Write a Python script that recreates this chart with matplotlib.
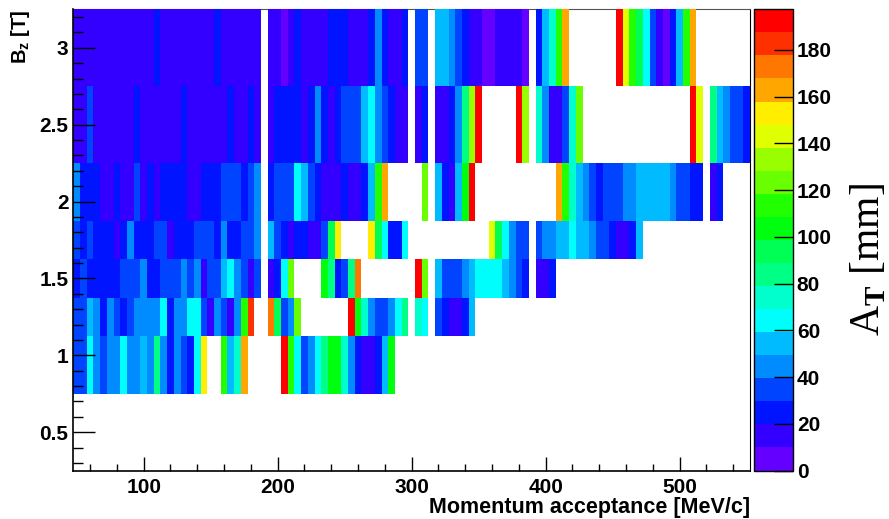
import colorsys
import numpy as np
import matplotlib
matplotlib.use("Agg")
import matplotlib.pyplot as plt
from matplotlib.colors import ListedColormap, BoundaryNorm
from matplotlib.ticker import MultipleLocator, FixedLocator

nan = np.nan

# bin centres (MeV/c) and field values (T)
momentum = np.arange(50, 555, 5)
bz_values = [1.0, 1.25, 1.5, 1.75, 2.0, 2.5, 3.0]
bz_edges = [0.75, 1.125, 1.375, 1.625, 1.875, 2.25, 2.75, 3.25]

# A_T [mm] per momentum bin, one list per field value (empty bins = nan)
at_b100 = [
    35, 35, 65, 45, 35, 45, 45, 65, 45, 45,
    55, 45, 85, 45, 25, 45, 35, 25, 65, 155,
    nan, nan, 115, 55, 75, 165, nan, nan, nan, nan,
    nan, 195, 115, 65, 35, 45, 65, 85, 105, 105,
    75, 45, 25, 15, 15, 25, 55, 105]
at_b125 = [
    35, 35, 55, 45, 25, 45, 35, 25, 35, 45,
    45, 45, 45, 65, 25, 45, 45, 65, 65, 35,
    15, 45, 35, 15, 45, 115, 185, nan, nan, 175,
    95, 35, 45, 125, nan, nan, nan, nan, nan, nan,
    nan, 195, 105, 75, 45, 35, 35, 45, 65, 85,
    nan, 75, 65, nan, 35, 25, 15, 15, 25, 55]
at_b150 = [
    25, 35, 25, 25, 25, 25, 25, 35, 35, 35,
    45, 25, 25, 35, 35, 35, 45, 35, 45, 15,
    35, 35, 55, 65, 45, 35, 15, 35, nan, 15,
    25, 65, 125, nan, nan, nan, nan, 105, 85, 25,
    35, 85, 175, nan, nan, nan, nan, nan, nan, nan,
    nan, 195, 125, nan, 55, 35, 35, 35, 45, 55,
    65, 65, 65, 65, 55, 45, 35, 25, nan, 15,
    15, 25]
at_b175 = [
    35, 25, 35, 25, 25, 25, 15, 25, 45, 25,
    25, 25, 35, 35, 15, 25, 25, 25, 35, 35,
    35, 25, 45, 25, 25, 35, 35, 45, nan, 55,
    35, 25, 15, 25, 25, 15, 15, 35, 95, 155,
    nan, nan, nan, nan, 155, 95, 65, 25, 25, 65,
    nan, nan, nan, nan, nan, nan, nan, nan, nan, nan,
    nan, nan, 145, 95, 65, 45, 35, 35, nan, 35,
    45, 45, 55, 55, 65, 55, 55, 45, 35, 35,
    25, 15, 15, 25, 55]
at_b200 = [
    45, 25, 25, 25, 15, 15, 25, 15, 15, 35,
    15, 25, 15, 25, 25, 25, 25, 15, 15, 25,
    25, 25, 35, 35, 35, 25, 35, 45, nan, 25,
    35, 35, 35, 65, 55, 35, 25, 15, 15, 15,
    25, 15, 15, 25, 55, 115, 165, nan, nan, nan,
    nan, nan, 125, nan, 55, 25, 15, 55, 105, 195,
    nan, nan, nan, nan, nan, nan, nan, nan, nan, nan,
    nan, nan, 165, 115, 75, 55, 45, 35, 25, 35,
    35, 35, 45, 45, 55, 55, 55, 55, 55, 45,
    35, 35, 25, 25, nan, 15, 25]
at_b250 = [
    15, 15, 35, 15, 15, 15, 15, 15, 15, 25,
    15, 15, 15, 15, 15, 15, 25, 15, 15, 15,
    15, 15, 15, 25, 15, 15, 25, 15, nan, 15,
    25, 25, 25, 25, 15, 25, 45, 25, 15, 25,
    35, 35, 35, 55, 65, 45, 35, 25, 15, 15,
    nan, 15, 25, nan, 15, 15, 25, 45, 85, 135,
    195, nan, nan, nan, nan, nan, 195, 135, nan, 75,
    45, 15, 15, 35, 75, 125, nan, nan, nan, nan,
    nan, nan, nan, nan, nan, nan, nan, nan, nan, nan,
    nan, nan, 195, 145, nan, 85, 55, 45, 35, 35,
    25]
at_b300 = [
    15, 15, 15, 15, 15, 15, 15, 15, 15, 15,
    15, 15, 25, 15, 15, 15, 15, 15, 15, 15,
    15, 25, 15, 15, 15, 15, 15, 15, nan, 15,
    15, 5, 15, 25, 15, 15, 15, 15, 25, 25,
    25, 15, 15, 15, 25, 45, 25, 15, 15, 25,
    nan, 35, 35, nan, 55, 55, 45, 35, 25, 15,
    15, 5, 5, 15, 15, 15, 15, 5, nan, 25,
    55, 75, 115, 165, nan, nan, nan, nan, nan, nan,
    nan, 195, 145, 115, 95, 65, 35, 15, 5, 25,
    55, 115, 165]

z_max = 197.4
n_contours = 20


def pad(row):
    # bins past the last listed one are empty
    return row + [nan] * (len(momentum) - len(row))


def root_palette(ncont):
    # ROOT "pretty palette" (violet -> red), picked per contour like COLZ does
    cols = []
    for k in range(ncont):
        idx = int((k + 0.99) * 50 / ncont)
        if idx >= 49:
            cols.append((1.0, 0.0, 0.0))
        else:
            hue = 280 - (idx + 1) * 5.6
            cols.append(colorsys.hls_to_rgb(hue / 360.0, 0.5, 1.0))
    return cols


plt.rcParams["font.family"] = "Liberation Sans"
plt.rcParams["font.weight"] = "bold"
plt.rcParams["mathtext.fontset"] = "custom"
plt.rcParams["mathtext.rm"] = "Liberation Serif"
plt.rcParams["mathtext.bf"] = "Liberation Sans:bold"

z = np.array([pad(r) for r in [at_b100, at_b125, at_b150, at_b175,
                                at_b200, at_b250, at_b300]])
z = np.ma.masked_invalid(z)
x_edges = np.append(momentum - 2.5, momentum[-1] + 2.5)

cmap = ListedColormap(root_palette(n_contours))
norm = BoundaryNorm(np.linspace(0, z_max, n_contours + 1), cmap.N)

W, H = 889, 519
fig = plt.figure(figsize=(W / 100, H / 100), dpi=100)
ax = fig.add_axes([73.3 / W, 1 - 470.7 / H, (750 - 73.3) / W, (470.7 - 9.3) / H])

mesh = ax.pcolormesh(x_edges, bz_edges, z, cmap=cmap, norm=norm)

ax.set_xlim(x_edges[0], x_edges[-1])
ax.set_ylim(0.25, 3.25)

# frame: top/right sit under the cells, left/bottom axes on top
for side in ["top", "right"]:
    ax.spines[side].set_zorder(0.5)
    ax.spines[side].set_linewidth(0.8)
ax.spines["top"].set_color("#555555")
for side in ["left", "bottom"]:
    ax.spines[side].set_linewidth(1.2)

ax.xaxis.set_major_locator(FixedLocator([100, 200, 300, 400, 500]))
ax.xaxis.set_minor_locator(MultipleLocator(20))
ax.yaxis.set_major_locator(FixedLocator([0.5, 1, 1.5, 2, 2.5, 3]))
ax.yaxis.set_minor_locator(MultipleLocator(0.1))
ax.set_yticklabels(["0.5", "1", "1.5", "2", "2.5", "3"])

ax.tick_params(which="both", direction="in", top=False, right=False,
               width=1, labelsize=15)
ax.tick_params(axis="x", which="major", length=10, pad=5.5)
ax.tick_params(axis="x", which="minor", length=5)
ax.tick_params(axis="y", which="major", length=15.6, pad=3.5)
ax.tick_params(axis="y", which="minor", length=7.2)

fig.text(750 / W, 1 - 518 / H, "Momentum acceptance [MeV/c]",
         ha="right", va="bottom", fontsize=15.5, fontweight="bold")
fig.text(21 / W, 1 - 9.3 / H, r"B$_{\mathbf{z}}$ [T]", rotation=90,
         ha="center", va="top", fontsize=14.5, fontweight="bold")

# colour scale
cax = fig.add_axes([753.7 / W, 1 - 470.5 / H, 39 / W, (470.5 - 9.3) / H])
cb = fig.colorbar(mesh, cax=cax, ticks=list(range(0, 181, 20)))
cb.outline.set_linewidth(1)
cb.ax.tick_params(direction="in", length=14, width=1, labelsize=15, pad=3)
cb.ax.minorticks_off()

fig.text(868 / W, 1 - 260 / H, r"A$_{\rm T}$ [mm]", rotation=90,
         ha="center", va="center", fontsize=30, fontweight="normal",
         family="Liberation Serif")

fig.savefig("out.png", dpi=100, facecolor="white")
